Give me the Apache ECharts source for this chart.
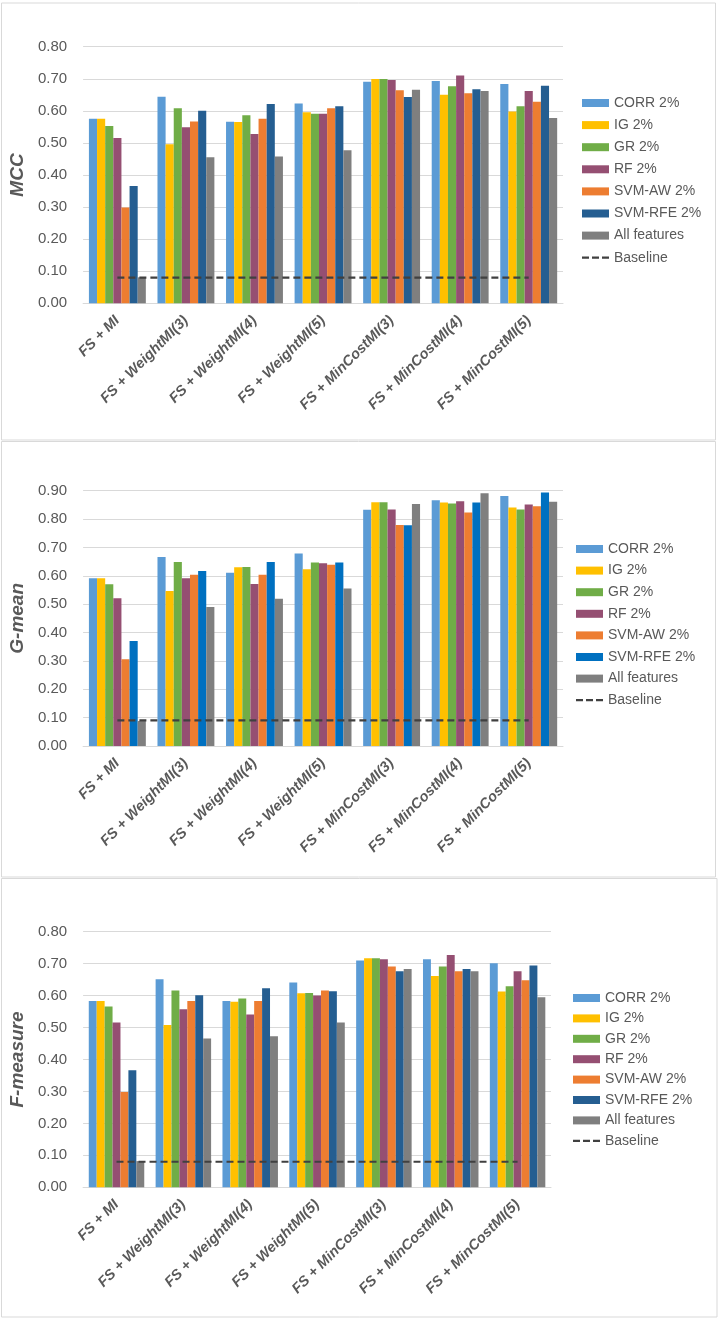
<!DOCTYPE html>
<html>
<head>
<meta charset="utf-8">
<script src="https://cdn.jsdelivr.net/npm/echarts@6/dist/echarts.min.js"></script>
<style>
  html, body { margin: 0; padding: 0; background: #ffffff; }
  #chart { width: 720px; height: 1322px; }
</style>
</head>
<body>
<div id="chart"></div>
<script>
// ---------- DATA ----------
const categories = ['FS + MI', 'FS + WeightMI(3)', 'FS + WeightMI(4)', 'FS + WeightMI(5)', 'FS + MinCostMI(3)', 'FS + MinCostMI(4)', 'FS + MinCostMI(5)'];
const seriesNames = ['CORR 2%', 'IG 2%', 'GR 2%', 'RF 2%', 'SVM-AW 2%', 'SVM-RFE 2%', 'All features'];
const baselineName = 'Baseline';

// MCC
const mccCorr = [0.575, 0.644, 0.566, 0.623, 0.691, 0.693, 0.684];
const mccIG   = [0.575, 0.496, 0.565, 0.596, 0.699, 0.650, 0.598];
const mccGR   = [0.553, 0.608, 0.586, 0.591, 0.699, 0.677, 0.614];
const mccRF   = [0.515, 0.549, 0.528, 0.591, 0.696, 0.710, 0.662];
const mccAW   = [0.299, 0.567, 0.575, 0.608, 0.664, 0.655, 0.628];
const mccRFE  = [0.366, 0.600, 0.621, 0.614, 0.643, 0.667, 0.678];
const mccAll  = [0.081, 0.455, 0.458, 0.477, 0.666, 0.662, 0.578];
const mccBase = [0.08, 0.08, 0.08, 0.08, 0.08, 0.08, 0.08];

// G-mean
const gmCorr = [0.591, 0.666, 0.611, 0.679, 0.833, 0.866, 0.881];
const gmIG   = [0.591, 0.546, 0.630, 0.623, 0.859, 0.858, 0.841];
const gmGR   = [0.570, 0.649, 0.631, 0.647, 0.859, 0.855, 0.834];
const gmRF   = [0.521, 0.591, 0.571, 0.644, 0.834, 0.863, 0.851];
const gmAW   = [0.306, 0.604, 0.604, 0.639, 0.779, 0.823, 0.845];
const gmRFE  = [0.370, 0.617, 0.649, 0.647, 0.778, 0.858, 0.894];
const gmAll  = [0.088, 0.490, 0.519, 0.555, 0.853, 0.891, 0.861];
const gmBase = [0.09, 0.09, 0.09, 0.09, 0.09, 0.09, 0.09];

// F-measure
const fmCorr = [0.583, 0.651, 0.583, 0.641, 0.710, 0.714, 0.701];
const fmIG   = [0.583, 0.508, 0.581, 0.607, 0.717, 0.661, 0.613];
const fmGR   = [0.566, 0.616, 0.591, 0.608, 0.717, 0.691, 0.629];
const fmRF   = [0.516, 0.557, 0.541, 0.600, 0.714, 0.727, 0.676];
const fmAW   = [0.298, 0.583, 0.583, 0.616, 0.691, 0.676, 0.648];
const fmRFE  = [0.366, 0.601, 0.623, 0.614, 0.676, 0.683, 0.694];
const fmAll  = [0.082, 0.466, 0.473, 0.516, 0.683, 0.676, 0.595];
const fmBase = [0.08, 0.08, 0.08, 0.08, 0.08, 0.08, 0.08];

// ---------- STYLE ----------
const colorsA = ['#5B9BD5', '#FFC000', '#70AD47', '#954F72', '#ED7D31', '#255E91', '#7F7F7F'];
const colorsB = ['#5B9BD5', '#FFC000', '#70AD47', '#954F72', '#ED7D31', '#0070C0', '#7F7F7F'];
const FONT = '"Liberation Sans", Arial, sans-serif';
const TXT = '#595959';
const GRIDC = '#D9D9D9';
const DASH_ICON = 'path://M0,0h7v2.2h-7zM10,0h7v2.2h-7zM20,0h7v2.2h-7z';

const panels = [
  { key: 'm', title: 'MCC', data: [mccCorr, mccIG, mccGR, mccRF, mccAW, mccRFE, mccAll], base: mccBase, max: 0.8, colors: colorsA,
    grid: { left: 79, top: 46.7, width: 484, height: 256.6 }, legend: { left: 582, top: 96, itemGap: 8.1 }, rect: [1.5, 3, 714, 437] },
  { key: 'g', title: 'G-mean', data: [gmCorr, gmIG, gmGR, gmRF, gmAW, gmRFE, gmAll], base: gmBase, max: 0.9, colors: colorsB,
    grid: { left: 77, top: 490.7, width: 486, height: 255.3 }, legend: { left: 576, top: 542, itemGap: 7.6 }, rect: [1.5, 441.5, 714, 435.5] },
  { key: 'f', title: 'F-measure', data: [fmCorr, fmIG, fmGR, fmRF, fmAW, fmRFE, fmAll], base: fmBase, max: 0.8, colors: colorsA,
    grid: { left: 83, top: 931.7, width: 468, height: 255.6 }, legend: { left: 573, top: 991, itemGap: 6.4 }, rect: [1.5, 878.5, 715.5, 438.5] }
];

const option = {
  animation: false,
  backgroundColor: '#ffffff',
  grid: [], xAxis: [], yAxis: [], legend: [], series: [], graphic: []
};

panels.forEach((p, i) => {
  option.graphic.push({
    type: 'rect', shape: { x: p.rect[0], y: p.rect[1], width: p.rect[2], height: p.rect[3] },
    style: { fill: 'none', stroke: GRIDC, lineWidth: 1 }, silent: true, z: -1
  });
  option.grid.push(Object.assign({ containLabel: false }, p.grid));
  option.xAxis.push({
    type: 'category', gridIndex: i, data: categories,
    axisTick: { show: false },
    axisLine: { lineStyle: { color: GRIDC, width: 1 } },
    axisLabel: { rotate: 45, interval: 0, margin: 15, color: TXT, fontFamily: FONT, fontSize: 14.5, fontWeight: 'bold', fontStyle: 'italic' }
  });
  option.yAxis.push({
    type: 'value', gridIndex: i, min: 0, max: p.max, interval: 0.1,
    name: p.title, nameLocation: 'middle', nameRotate: 90, nameGap: 53,
    nameTextStyle: { color: TXT, fontFamily: FONT, fontSize: 19, fontWeight: 'bold', fontStyle: 'italic' },
    axisLine: { show: false }, axisTick: { show: false },
    splitLine: { lineStyle: { color: GRIDC, width: 1 } },
    axisLabel: { color: TXT, fontFamily: FONT, fontSize: 15, margin: 16, formatter: v => v.toFixed(2) }
  });
  const names = seriesNames.map(n => p.key + '|' + n);
  const baseFull = p.key + '|' + baselineName;
  option.legend.push({
    orient: 'vertical', left: p.legend.left, top: p.legend.top, itemGap: p.legend.itemGap,
    padding: 0,
    itemWidth: 27, itemHeight: 8,
    data: names.map(n => ({ name: n, icon: 'rect' })).concat([{ name: baseFull, icon: DASH_ICON }]),
    formatter: n => n.split('|')[1],
    textStyle: { color: TXT, fontFamily: FONT, fontSize: 14 },
    selectedMode: false
  });
  p.data.forEach((arr, k) => {
    option.series.push({
      type: 'bar', name: names[k], xAxisIndex: i, yAxisIndex: i, data: arr,
      barGap: '0%', barCategoryGap: '17%',
      itemStyle: { color: p.colors[k] }
    });
  });
  option.series.push({
    type: 'line', name: baseFull, xAxisIndex: i, yAxisIndex: i, data: p.base,
    symbol: 'none', showSymbol: false, z: 5,
    lineStyle: { color: '#404040', width: 2.2, type: [7, 4] },
    itemStyle: { color: '#404040' }
  });
});

const chart = echarts.init(document.getElementById('chart'), null, { renderer: 'canvas' });
chart.setOption(option);
</script>
</body>
</html>
